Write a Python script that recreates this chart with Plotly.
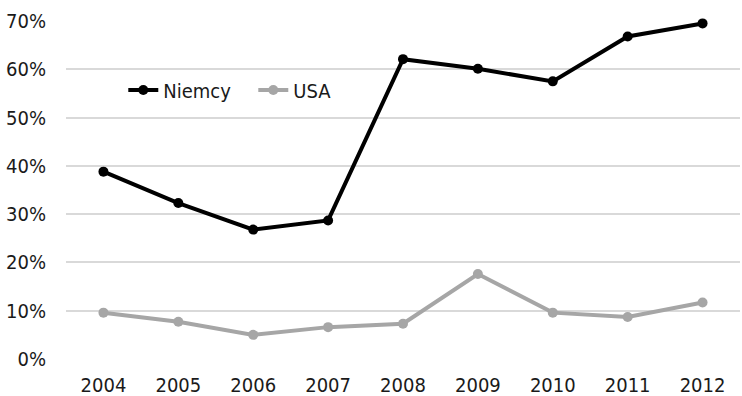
import plotly.graph_objects as go

years = ["2004", "2005", "2006", "2007", "2008", "2009", "2010", "2011", "2012"]
niemcy = [0.388, 0.323, 0.268, 0.287, 0.621, 0.601, 0.575, 0.668, 0.695]
usa = [0.096, 0.077, 0.050, 0.066, 0.073, 0.176, 0.096, 0.087, 0.117]
y_ticks = [0, 0.1, 0.2, 0.3, 0.4, 0.5, 0.6, 0.7]

FONT = "Liberation Sans Narrow, DejaVu Sans Condensed, sans-serif"

fig = go.Figure()
fig.add_trace(go.Scatter(x=years, y=niemcy, name="Niemcy", mode="lines+markers",
                         line=dict(color="#000000", width=4), cliponaxis=False,
                         marker=dict(color="#000000", size=10)))
fig.add_trace(go.Scatter(x=years, y=usa, name="USA", mode="lines+markers",
                         line=dict(color="#a6a6a6", width=4), cliponaxis=False,
                         marker=dict(color="#a6a6a6", size=10)))

fig.update_layout(
    width=742, height=396,
    margin=dict(l=66, r=2, t=21, b=37),
    paper_bgcolor="white", plot_bgcolor="white",
    font=dict(family=FONT, size=20, color="#1a1a1a"),
    showlegend=True,
    legend=dict(orientation="h", x=0.085, xanchor="left", y=0.796, yanchor="middle",
                bgcolor="rgba(0,0,0,0)", font=dict(size=20),
                entrywidth=85, entrywidthmode="pixels"),
    xaxis=dict(type="category", range=[-0.5, 8.5], showgrid=False, zeroline=False,
               showline=False, ticks="", tickfont=dict(size=20), ticklabelstandoff=12,
               automargin=False),
    yaxis=dict(range=[0, 0.7], tickvals=y_ticks, tickformat=".0%",
               showgrid=True, gridcolor="#d9d9d9", gridwidth=1.5,
               zeroline=False, showline=False, ticks="",
               ticklabelstandoff=19, tickfont=dict(size=20), automargin=False),
)

fig.write_html("out.html")
